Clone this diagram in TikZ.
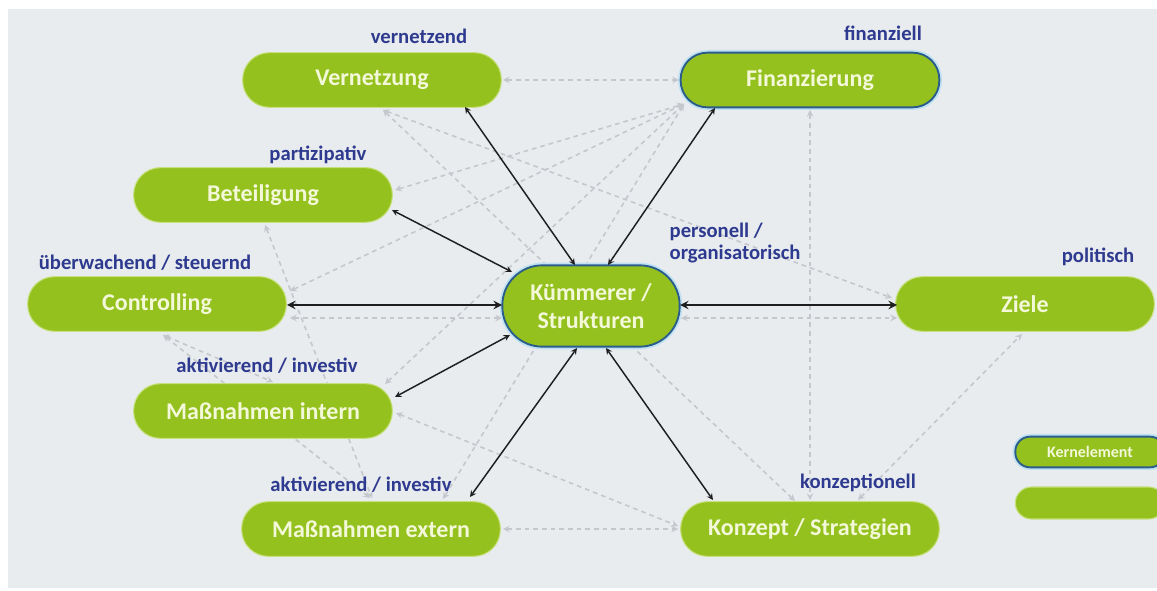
\documentclass[tikz,border=0pt]{standalone}
\usepackage{fontspec}
\setmainfont{Carlito}
\usetikzlibrary{calc,backgrounds}
\definecolor{bg-grey}{HTML}{E8ECEF}
\definecolor{kern-green}{HTML}{95C11F}
\definecolor{box-rim}{HTML}{C6E07E}
\definecolor{box-text}{HTML}{F3F8D8}
\definecolor{kern-blue}{HTML}{2A5D8C}
\definecolor{kern-halo}{HTML}{BFE1F2}
\definecolor{role-blue}{HTML}{2E3A8F}
\definecolor{link-grey}{HTML}{C4C8CC}
\definecolor{link-black}{HTML}{1E1E1E}

\begin{document}
\begin{tikzpicture}[
    x=0.75pt, y=-0.75pt,
    box/.style={rectangle, rounded corners=20pt, draw=box-rim, line width=0.8pt, fill=kern-green, text=box-text, minimum width=194pt, minimum height=41pt, inner sep=0pt, font=\bfseries\fontsize{18}{21}\selectfont},
    kernbox/.style={box, draw=kern-blue, line width=1.4pt, preaction={draw=kern-halo, line width=4pt}},
    role/.style={text=role-blue, font=\bfseries\fontsize{15.5}{16.5}\selectfont},
    link/.style={<->, >=stealth, line width=1.1pt, draw=link-black},
    dashlink/.style={<->, >=stealth, line width=1.2pt, draw=link-grey, dash pattern=on 3.5pt off 3pt}
]
    \useasboundingbox (0,0) rectangle (1157,591);

    \node[box] (vern) at (372,80) {Vernetzung};
    \node[kernbox] (fin) at (810,80) {Finanzierung};
    \node[box] (bet) at (263,195) {Beteiligung};
    \node[box] (ctrl) at (157,304) {Controlling};
    \node[box] (mint) at (263,411) {Maßnahmen intern};
    \node[box] (mext) at (371,529) {Maßnahmen extern};
    \node[box] (konz) at (810,529) {Konzept / Strategien};
    \node[box] (ziele) at (1025,304) {Ziele};
    \node[kernbox, minimum width=133pt, minimum height=61pt, rounded corners=30pt, align=center] (kum) at (591,306) {Kümmerer /\\Strukturen};

    % legend
    \node[kernbox, minimum width=112pt, minimum height=23pt, rounded corners=11pt, font=\bfseries\fontsize{12}{14}\selectfont] (legkern) at (1090,452) {Kernelement};
    \node[box, minimum width=112pt, minimum height=24pt, rounded corners=12pt] (legplain) at (1090,503) {};

    \node[role] (lvern) at (419,36) {vernetzend};
    \node[role] (lfin) at (883,33) {finanziell};
    \node[role] (lbet) at (318,155) {partizipativ};
    \node[role] (lctrl) at (145,263) {überwachend / steuernd};
    \node[role, align=left, anchor=west] (lkum) at (665,243) {personell /\\organisatorisch};
    \node[role] (lziele) at (1098,257) {politisch};
    \node[role] (lmint) at (267,366) {aktivierend / investiv};
    \node[role] (lmext) at (361,485) {aktivierend / investiv};
    \node[role] (lkonz) at (858,483) {konzeptionell};

    \begin{scope}[on background layer]
        \fill[white] (0,0) rectangle (1157,591);
        \fill[bg-grey] (8,9) rectangle (1157,588);

        \draw[dashlink] ($(vern)+(131,0)$) -- ($(fin)+(-131,0)$);
        \draw[dashlink] ($(vern)+(11,30)$) -- ($(ziele)+(-133,-6)$);
        \draw[dashlink] ($(vern)+(11,30)$) -- ($(konz)+(-15,-28)$);
        \draw[dashlink] ($(bet)+(132,-5)$) -- ($(fin)+(-126,24)$);
        \draw[dashlink] ($(ctrl)+(133,-13)$) -- ($(fin)+(-126,24)$);
        \draw[dashlink] ($(mint)+(122,-27)$) -- ($(fin)+(-126,24)$);
        \draw[dashlink] ($(mext)+(72,-30)$) -- ($(fin)+(-126,24)$);
        \draw[dashlink] ($(fin)+(0,30)$) -- ($(konz)+(0,-29)$);
        \draw[dashlink] ($(ctrl)+(133,14)$) -- ($(kum)+(-89,12)$);
        \draw[dashlink] ($(kum)+(90,12)$) -- ($(ziele)+(-128,14)$);
        \draw[dashlink] ($(ctrl)+(6,31)$) -- ($(mext)+(-1,-31)$);
        \draw[dashlink] ($(ctrl)+(6,31)$) -- ($(mint)+(10,-29)$);
        \draw[dashlink] ($(bet)+(2,30)$) -- ($(mext)+(1,-31)$);
        \draw[dashlink] ($(mext)+(132,0)$) -- ($(konz)+(-132,0)$);
        \draw[dashlink] ($(mint)+(133,2)$) -- ($(konz)+(-132,-3)$);
        \draw[dashlink] ($(konz)+(48,-29)$) -- ($(ziele)+(-3,30)$);
    \end{scope}

    \draw[link] ($(vern)+(93,27)$) -- ($(kum)+(-16,-41)$);
    \draw[link] ($(fin)+(-95,28)$) -- ($(kum)+(17,-41)$);
    \draw[link] ($(bet)+(129,15)$) -- ($(kum)+(-79,-34)$);
    \draw[link, line width=1.8pt] ($(ctrl)+(130,1)$) -- ($(kum)+(-89,-1)$);
    \draw[link, line width=1.8pt] ($(kum)+(89,-1)$) -- ($(ziele)+(-128,1)$);
    \draw[link] ($(mint)+(132,-14)$) -- ($(kum)+(-81,29)$);
    \draw[link] ($(mext)+(99,-32)$) -- ($(kum)+(-14,42)$);
    \draw[link] ($(konz)+(-97,-29)$) -- ($(kum)+(15,42)$);
\end{tikzpicture}
\end{document}
